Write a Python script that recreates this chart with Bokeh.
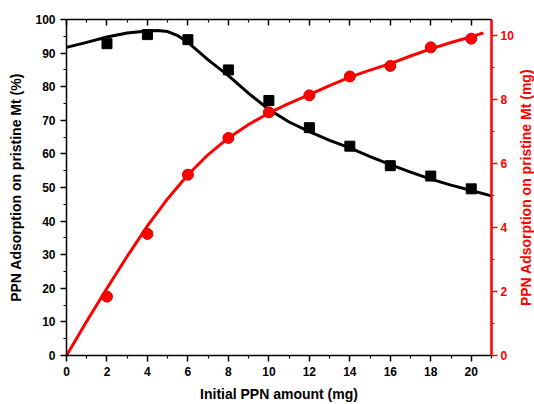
import math
from bokeh.plotting import figure
from bokeh.layouts import row
from bokeh.models import Range1d, LinearAxis, FixedTicker, CustomJSTickFormatter
from bokeh.core.properties import value
from bokeh.embed import file_html
from bokeh.resources import INLINE

# data
initial_ppn = [2, 4, 6, 8, 10, 12, 14, 16, 18, 20]
adsorption_pct = [92.8, 95.5, 94.0, 85.0, 75.9, 67.8, 62.3, 56.5, 53.4, 49.6]
adsorption_mg = [1.84, 3.80, 5.65, 6.80, 7.60, 8.13, 8.72, 9.05, 9.63, 9.90]

fit_pct_x = [0, 1, 2, 3, 4, 4.5, 5, 5.5, 6, 6.5, 7, 8, 9, 10, 11, 12, 13, 14, 15, 16, 17, 18, 19, 20, 21]
fit_pct_y = [91.7, 93.2, 94.8, 96.0, 96.6, 96.7, 96.4, 95.2, 93.2, 90.6, 88.0, 83.3, 78.0, 73.2, 69.5, 66.6, 64.0, 61.8, 59.2, 56.8, 54.6, 52.5, 50.7, 49.1, 47.5]

fit_mg_x = [0, 1, 2, 3, 4, 5, 6, 7, 8, 9, 10, 11, 12, 13, 14, 15, 16, 17, 18, 19, 20, 20.6]
fit_mg_y = [0, 1.07, 2.1, 3.1, 4.05, 4.9, 5.65, 6.28, 6.8, 7.22, 7.58, 7.88, 8.15, 8.43, 8.7, 8.92, 9.12, 9.36, 9.58, 9.78, 9.96, 10.08]

x_ticks = [0, 2, 4, 6, 8, 10, 12, 14, 16, 18, 20]
x_minor = [1, 3, 5, 7, 9, 11, 13, 15, 17, 19, 21]
left_ticks = [0, 10, 20, 30, 40, 50, 60, 70, 80, 90, 100]
left_minor = [5, 15, 25, 35, 45, 55, 65, 75, 85, 95]
right_ticks = [0, 2, 4, 6, 8, 10]
right_minor = [1, 3, 5, 7, 9]
right_title = "PPN Adsorption on pristine Mt (mg)"

FONT = "Liberation Sans"
RED = "#ff0000"
H = 404

p = figure(width=516, height=H, output_backend="svg", toolbar_location=None,
           x_range=Range1d(0, 21), y_range=Range1d(0, 100),
           min_border_left=66, min_border_right=25, min_border_top=19, min_border_bottom=49)
p.extra_y_ranges = {"mg": Range1d(0, 10.5)}
p.grid.visible = False
p.outline_line_color = None
p.background_fill_color = "white"
p.border_fill_color = "white"

def style_axis(ax, color, ticks, minor):
    ax.ticker = FixedTicker(ticks=ticks, minor_ticks=minor)
    ax.axis_line_color = color
    ax.axis_line_width = 1.5
    ax.major_tick_line_color = color
    ax.minor_tick_line_color = color
    ax.major_tick_line_width = 1.5
    ax.minor_tick_line_width = 1.2
    ax.major_tick_out = 6
    ax.major_tick_in = 0
    ax.minor_tick_out = 3
    ax.minor_tick_in = 0
    ax.major_label_text_font = FONT
    ax.major_label_text_font_style = "bold"
    ax.major_label_text_font_size = "12px"
    ax.major_label_text_color = color
    ax.axis_label_text_font = FONT
    ax.axis_label_text_font_style = "bold"
    ax.axis_label_text_font_size = "14px"
    ax.axis_label_text_color = color

xa = p.xaxis[0]
style_axis(xa, "black", x_ticks, x_minor)
xa.axis_label = "Initial PPN amount (mg)"
xa.major_label_standoff = 5
xa.axis_label_standoff = 7

ya = p.yaxis[0]
style_axis(ya, "black", left_ticks, left_minor)
ya.axis_label = "PPN Adsorption on pristine Mt (%)"
ya.major_label_standoff = 5
ya.axis_label_standoff = 8

top = LinearAxis()
style_axis(top, "black", x_ticks, x_minor)
top.major_tick_in = 6
top.major_tick_out = 0
top.minor_tick_in = 3
top.minor_tick_out = 0
top.major_label_standoff = 0
top.major_label_text_font_size = "0px"
top.formatter = CustomJSTickFormatter(code="return ''")
p.add_layout(top, "above")

ra = LinearAxis(y_range_name="mg")
style_axis(ra, RED, right_ticks, right_minor)
ra.axis_line_width = 2.5
ra.major_label_standoff = 3
p.add_layout(ra, "right")

# fitted curves
p.line(fit_pct_x, fit_pct_y, line_color="black", line_width=3)
p.line(fit_mg_x, fit_mg_y, line_color=RED, line_width=3, y_range_name="mg")

# data points
p.scatter(initial_ppn, adsorption_pct, marker="square", size=10, fill_color="black", line_color="black")
p.scatter(initial_ppn, adsorption_mg, marker="circle", size=11, fill_color=RED, line_color="#e00000",
          y_range_name="mg")

# right-hand axis title (reads bottom to top), in a narrow companion panel
t = figure(width=18, height=H, output_backend="svg", toolbar_location=None,
           x_range=Range1d(0, 1), y_range=Range1d(0, 1),
           min_border_left=0, min_border_right=0, min_border_top=19, min_border_bottom=49)
t.axis.visible = False
t.grid.visible = False
t.outline_line_color = None
t.border_fill_color = "white"
t.text(x=[0.5], y=[0.5], text=[right_title], angle=math.pi / 2,
       text_align="center", text_baseline="middle",
       text_font=value(FONT), text_font_style="bold", text_font_size="14px", text_color=RED)

layout = row(p, t, spacing=0)
open("out.html", "w").write(file_html(layout, INLINE))
